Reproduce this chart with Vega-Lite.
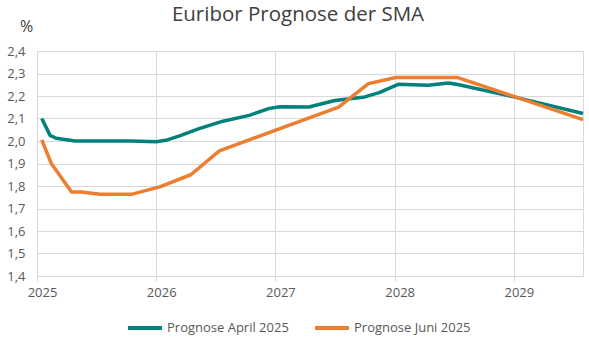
{
  "$schema": "https://vega.github.io/schema/vega-lite/v6.json",
  "width": 546,
  "height": 225,
  "autosize": "none",
  "padding": {"left": 37, "top": 51, "right": 6, "bottom": 73},
  "background": "white",
  "config": {
    "font": "Open Sans",
    "view": {"stroke": "#D9D9D9", "strokeWidth": 1}
  },
  "title": {
    "text": "Euribor Prognose der SMA",
    "fontSize": 20.5,
    "fontWeight": "normal",
    "color": "#404040",
    "anchor": "middle",
    "dx": -12,
    "offset": -7
  },
  "data": {
    "values": [
      {"t": 2025.04, "wert": 2.10, "serie": "Prognose April 2025"},
      {"t": 2025.11, "wert": 2.025, "serie": "Prognose April 2025"},
      {"t": 2025.16, "wert": 2.012, "serie": "Prognose April 2025"},
      {"t": 2025.32, "wert": 2.0, "serie": "Prognose April 2025"},
      {"t": 2025.5, "wert": 2.0, "serie": "Prognose April 2025"},
      {"t": 2025.79, "wert": 2.0, "serie": "Prognose April 2025"},
      {"t": 2026.0, "wert": 1.997, "serie": "Prognose April 2025"},
      {"t": 2026.08, "wert": 2.003, "serie": "Prognose April 2025"},
      {"t": 2026.19, "wert": 2.022, "serie": "Prognose April 2025"},
      {"t": 2026.36, "wert": 2.055, "serie": "Prognose April 2025"},
      {"t": 2026.56, "wert": 2.088, "serie": "Prognose April 2025"},
      {"t": 2026.78, "wert": 2.114, "serie": "Prognose April 2025"},
      {"t": 2026.95, "wert": 2.145, "serie": "Prognose April 2025"},
      {"t": 2027.04, "wert": 2.152, "serie": "Prognose April 2025"},
      {"t": 2027.28, "wert": 2.151, "serie": "Prognose April 2025"},
      {"t": 2027.5, "wert": 2.18, "serie": "Prognose April 2025"},
      {"t": 2027.75, "wert": 2.196, "serie": "Prognose April 2025"},
      {"t": 2027.87, "wert": 2.215, "serie": "Prognose April 2025"},
      {"t": 2028.03, "wert": 2.252, "serie": "Prognose April 2025"},
      {"t": 2028.28, "wert": 2.248, "serie": "Prognose April 2025"},
      {"t": 2028.45, "wert": 2.258, "serie": "Prognose April 2025"},
      {"t": 2028.53, "wert": 2.251, "serie": "Prognose April 2025"},
      {"t": 2029.0, "wert": 2.196, "serie": "Prognose April 2025"},
      {"t": 2029.58, "wert": 2.122, "serie": "Prognose April 2025"},
      {"t": 2025.04, "wert": 2.005, "serie": "Prognose Juni 2025"},
      {"t": 2025.12, "wert": 1.90, "serie": "Prognose Juni 2025"},
      {"t": 2025.29, "wert": 1.773, "serie": "Prognose Juni 2025"},
      {"t": 2025.37, "wert": 1.773, "serie": "Prognose Juni 2025"},
      {"t": 2025.53, "wert": 1.763, "serie": "Prognose Juni 2025"},
      {"t": 2025.79, "wert": 1.763, "serie": "Prognose Juni 2025"},
      {"t": 2026.03, "wert": 1.796, "serie": "Prognose Juni 2025"},
      {"t": 2026.29, "wert": 1.85, "serie": "Prognose Juni 2025"},
      {"t": 2026.53, "wert": 1.956, "serie": "Prognose Juni 2025"},
      {"t": 2027.53, "wert": 2.151, "serie": "Prognose Juni 2025"},
      {"t": 2027.78, "wert": 2.255, "serie": "Prognose Juni 2025"},
      {"t": 2028.01, "wert": 2.282, "serie": "Prognose Juni 2025"},
      {"t": 2028.53, "wert": 2.282, "serie": "Prognose Juni 2025"},
      {"t": 2029.0, "wert": 2.198, "serie": "Prognose Juni 2025"},
      {"t": 2029.58, "wert": 2.095, "serie": "Prognose Juni 2025"}
    ]
  },
  "mark": {"type": "line", "strokeWidth": 3.5, "strokeJoin": "round"},
  "encoding": {
    "x": {
      "field": "t",
      "type": "quantitative",
      "scale": {"domain": [2025, 2029.58], "nice": false, "zero": false},
      "axis": {
        "title": null,
        "values": [2025, 2026, 2027, 2028, 2029],
        "format": "d",
        "grid": true,
        "gridColor": "#D9D9D9",
        "domain": false,
        "ticks": true,
        "tickColor": "#D9D9D9",
        "tickSize": 5,
        "labelFlush": false,
        "labelBound": false,
        "labelOffset": 5,
        "labelFontSize": 13,
        "labelColor": "#595959",
        "labelPadding": 5
      }
    },
    "y": {
      "field": "wert",
      "type": "quantitative",
      "scale": {"domain": [1.4, 2.4], "nice": false, "zero": false},
      "axis": {
        "title": "%",
        "titleAngle": 0,
        "titleX": -11,
        "titleY": -25,
        "titleAlign": "center",
        "titleBaseline": "middle",
        "titleFontSize": 16,
        "titleFontWeight": "normal",
        "titleColor": "#404040",
        "values": [1.4, 1.5, 1.6, 1.7, 1.8, 1.9, 2.0, 2.1, 2.2, 2.3, 2.4],
        "labelExpr": "replace(format(datum.value, '.1f'), '.', ',')",
        "grid": true,
        "gridColor": "#D9D9D9",
        "domain": false,
        "ticks": false,
        "labelFontSize": 13,
        "labelColor": "#595959",
        "labelPadding": 12
      }
    },
    "color": {
      "field": "serie",
      "type": "nominal",
      "scale": {"domain": ["Prognose April 2025", "Prognose Juni 2025"], "range": ["#00817A", "#ED7D31"]},
      "legend": {
        "title": null,
        "orient": "none",
        "direction": "horizontal",
        "legendX": 89,
        "legendY": 258,
        "symbolType": "stroke",
        "symbolSize": 1150,
        "symbolStrokeWidth": 4,
        "labelFontSize": 13,
        "labelColor": "#595959",
        "labelOffset": 3,
        "columnPadding": 18
      }
    }
  }
}
